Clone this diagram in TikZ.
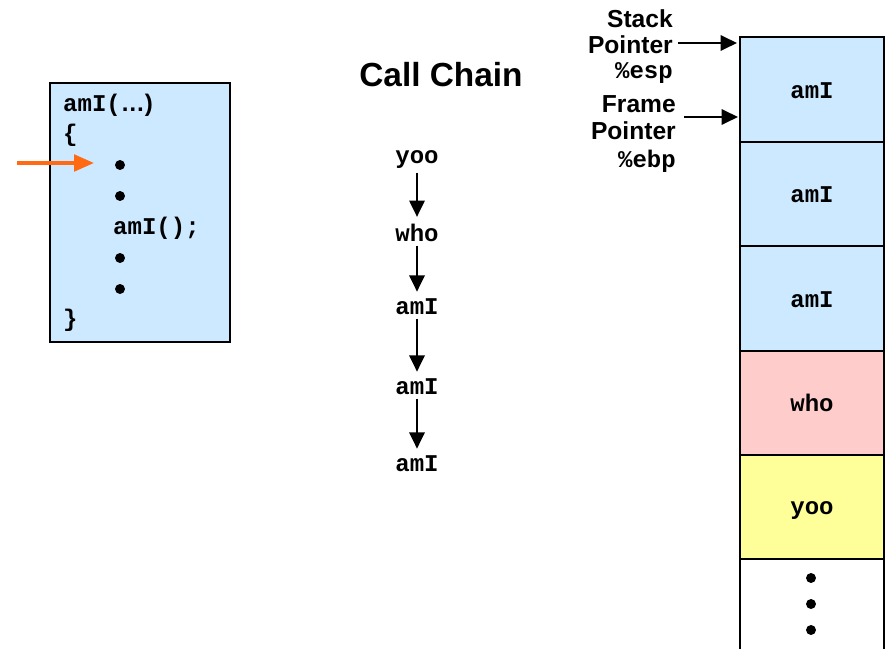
\documentclass[tikz,border=0pt]{standalone}
\usepackage{fontspec}
\setmainfont{Liberation Sans}
\newfontfamily\codefont{Liberation Mono}
\usetikzlibrary{arrows.meta}
\definecolor{frameblue}{HTML}{CCE9FF}
\definecolor{framepink}{HTML}{FFCCCC}
\definecolor{frameyellow}{HTML}{FFFF99}
\definecolor{callorange}{HTML}{FF6A13}
\tikzset{
  code/.style={font=\codefont\bfseries\fontsize{20.5}{22}\selectfont, inner sep=0pt},
  lab/.style={font=\bfseries\fontsize{21}{23}\selectfont, inner sep=0pt},
  cell/.style={draw=black, line width=2.2pt},
  darrow/.style={-{Triangle[length=14pt,width=13pt]}, line width=2.2pt},
  dot/.style={circle, fill=black, inner sep=0pt, minimum size=8.5pt},
}
\begin{document}
\begin{tikzpicture}[x=0.03cm, y=-0.03cm]
\useasboundingbox (0,0) rectangle (893,649);

% procedure body
\filldraw[fill=frameblue, draw=black, line width=2.2pt] (50,83) rectangle (230,342);
\node[code, anchor=west] (hdr) at (63,105) {amI(\fontspec{Liberation Sans}\bfseries …)};
\node[code, anchor=west] (ob) at (63,135) {\{};
\node[dot] (d1) at (120,165) {};
\node[dot] (d2) at (120,196) {};
\node[code, anchor=west] (rec) at (113,228) {amI();};
\node[dot] (d3) at (120,258) {};
\node[dot] (d4) at (120,289) {};
\node[code, anchor=west] (cb) at (63,320) {\}};
\coordinate (pc) at (17,163);
\coordinate (pcend) at (94,163);
\draw[callorange, line width=3.2pt, -{Triangle[length=17pt,width=14pt]}] (pc) -- (pcend);

% call chain
\node[font=\bfseries\fontsize{28.5}{30}\selectfont, inner sep=0pt] (title) at (441,75) {Call Chain};
\node[code] (c1) at (417,160) {yoo};
\node[code] (c2) at (417,233) {who};
\node[code] (c3) at (417,307) {amI};
\node[code] (c4) at (417,387) {amI};
\node[code] (c5) at (417,464) {amI};
\foreach \a/\b in {c1/c2, c2/c3, c3/c4, c4/c5}
  \draw[darrow, shorten <=3pt, shorten >=6pt] (\a) -- (\b);

% stack frames
\filldraw[cell, fill=frameblue] (740,37) rectangle (884,142);
\filldraw[cell, fill=frameblue] (740,142) rectangle (884,246);
\filldraw[cell, fill=frameblue] (740,246) rectangle (884,351);
\filldraw[cell, fill=framepink] (740,351) rectangle (884,455);
\filldraw[cell, fill=frameyellow] (740,455) rectangle (884,559);
\draw[cell] (740,649) -- (740,559) -- (884,559) -- (884,649);
\node[code] (s1) at (812,91) {amI};
\node[code] (s2) at (812,195) {amI};
\node[code] (s3) at (812,300) {amI};
\node[code] (s4) at (812,403) {who};
\node[code] (s5) at (812,511) {yoo};
\node[dot] (e1) at (811,578) {};
\node[dot] (e2) at (811,604) {};
\node[dot] (e3) at (811,630) {};

% pointers
\node[lab, anchor=east] (sp1) at (673,19) {Stack};
\node[lab, anchor=east] (sp2) at (673,45) {Pointer};
\node[code, anchor=east] (sp3) at (673,73) {\%esp};
\node[lab, anchor=east] (fp1) at (676,104) {Frame};
\node[lab, anchor=east] (fp2) at (676,131) {Pointer};
\node[code, anchor=east] (fp3) at (676,161) {\%ebp};
\coordinate (spstart) at (678,43);
\coordinate (sptip) at (737,43);
\coordinate (fpstart) at (684,117);
\coordinate (fptip) at (738,117);
\draw[darrow] (spstart) -- (sptip);
\draw[darrow] (fpstart) -- (fptip);
\end{tikzpicture}
\end{document}
